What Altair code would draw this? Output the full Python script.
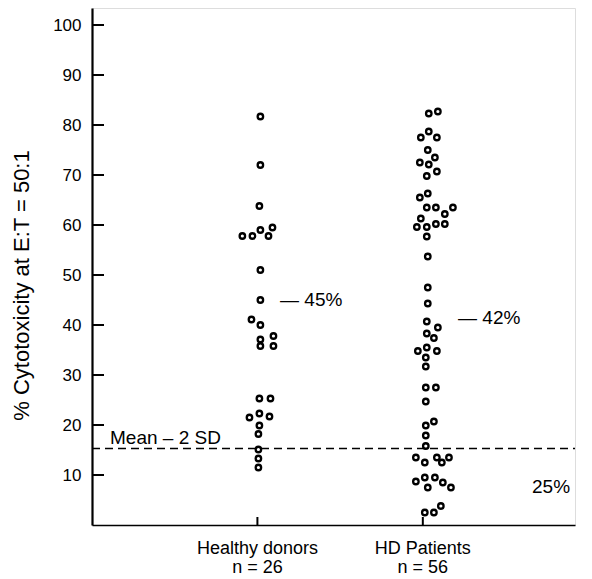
import altair as alt
import pandas as pd

# ---- data ----
groups = ["Healthy donors", "HD Patients"]
group_pos = [1, 2]
group_n = [26, 56]

healthy_values = [81.7, 72.0, 63.8, 57.8, 57.8, 59.0, 57.8, 59.5, 51.0, 45.0,
                  41.1, 40.0, 37.1, 35.8, 37.8, 35.8, 25.3, 25.3, 21.5, 22.3,
                  21.7, 19.9, 18.2, 15.1, 13.3, 11.5]
healthy_jitter = [0.018, 0.018, 0.012, -0.091, -0.030, 0.018, 0.067, 0.091, 0.018, 0.018,
                  -0.036, 0.018, 0.018, 0.018, 0.097, 0.097, 0.012, 0.079, -0.048, 0.012,
                  0.073, 0.012, 0.006, 0.006, 0.006, 0.006]

hd_values = [82.3, 82.7, 77.5, 78.7, 77.5, 75.0, 72.5, 72.1, 73.5, 69.8,
             70.7, 65.5, 66.3, 63.5, 63.5, 63.5, 62.2, 61.3, 59.6, 59.6,
             60.2, 60.2, 57.7, 53.7, 47.5, 44.3, 40.7, 39.5, 38.3, 37.4,
             34.8, 35.5, 34.8, 33.5, 31.7, 27.5, 27.5, 24.7, 19.9, 20.7,
             17.9, 15.8, 13.5, 12.5, 13.5, 12.5, 13.5, 8.7, 9.5, 9.5,
             8.5, 7.5, 7.5, 2.5, 2.5, 3.8]
hd_jitter = [0.036, 0.091, -0.012, 0.036, 0.085, 0.030, -0.018, 0.036, 0.073, 0.024,
             0.085, -0.018, 0.030, 0.024, 0.079, 0.182, 0.133, -0.012, -0.036, 0.024,
             0.079, 0.133, 0.024, 0.030, 0.030, 0.030, 0.024, 0.091, 0.024, 0.067,
             -0.030, 0.024, 0.085, 0.018, 0.018, 0.018, 0.079, 0.018, 0.018, 0.067,
             0.018, 0.018, -0.042, 0.012, 0.085, 0.115, 0.158, -0.042, 0.012, 0.073,
             0.121, 0.170, 0.030, 0.012, 0.067, 0.109]

cutoff = 15.3  # Mean - 2 SD
y_ticks = [10, 20, 30, 40, 50, 60, 70, 80, 90, 100]

ann_text = ["\u2014 45%", "\u2014 42%", "25%"]
ann_x = [1.137, 2.213, 2.66]
ann_y = [45.0, 41.5, 7.6]

FONT = "Liberation Sans"
W, H = 483, 517
XDOM = [0, 2.92]
YDOM = [0, 103.4]

pts = pd.DataFrame({
    "x": [group_pos[0] + j for j in healthy_jitter] + [group_pos[1] + j for j in hd_jitter],
    "y": healthy_values + hd_values,
})
xs = alt.Scale(domain=XDOM, nice=False, zero=False)
ys = alt.Scale(domain=YDOM, nice=False, zero=False)

points = alt.Chart(pts).mark_point(
    shape="circle", filled=False, color="black", size=30, strokeWidth=2.3, opacity=1
).encode(
    x=alt.X("x:Q", scale=xs, axis=alt.Axis(labels=False, ticks=False, title=None, grid=False,
                                         domainColor="black", domainWidth=1.5)),
    y=alt.Y("y:Q", scale=ys, axis=alt.Axis(
        values=y_ticks, ticks=False, tickSize=0, labelPadding=11, labelFontSize=17,
        labelFont=FONT, labelColor="black", domainColor="black", domainWidth=2.2, grid=False,
        title="% Cytotoxicity at E:T = 50:1", titleFont=FONT, titleFontSize=22,
        titleFontWeight="normal", titleColor="black", titleAngle=270, titleX=-71, titleY=277,
        titleAlign="center", titleBaseline="middle")),
)

yt = alt.Chart(pd.DataFrame({"y": y_ticks})).mark_rule(color="black", strokeWidth=2).encode(
    y=alt.Y("y:Q", scale=ys), x=alt.value(0), x2=alt.value(12))

xt = alt.Chart(pd.DataFrame({"x": group_pos})).mark_rule(color="black", strokeWidth=2).encode(
    x=alt.X("x:Q", scale=xs), y=alt.value(H), y2=alt.value(H - 8))

dash = alt.Chart(pd.DataFrame({"y": [cutoff]})).mark_rule(
    color="black", strokeWidth=1.5, strokeDash=[8, 5]
).encode(y=alt.Y("y:Q", scale=ys), x=alt.value(0), x2=alt.value(W))

mean_lbl = alt.Chart(pd.DataFrame({"x": [0.109], "y": [16.2], "t": ["Mean \u2013 2 SD"]})).mark_text(
    align="left", baseline="alphabetic", font=FONT, fontSize=19, color="black"
).encode(x=alt.X("x:Q", scale=xs), y=alt.Y("y:Q", scale=ys), text="t:N")

ann = alt.Chart(pd.DataFrame({"x": ann_x, "y": ann_y, "t": ann_text})).mark_text(
    align="left", baseline="middle", font=FONT, fontSize=19, color="black"
).encode(x=alt.X("x:Q", scale=xs), y=alt.Y("y:Q", scale=ys), text="t:N")

glabels = alt.Chart(pd.DataFrame({
    "x": group_pos,
    "t": [f"{g}\nn = {n}" for g, n in zip(groups, group_n)],
})).mark_text(
    align="center", baseline="alphabetic", font=FONT, fontSize=18, color="black",
    lineBreak="\n", lineHeight=19
).encode(x=alt.X("x:Q", scale=xs), y=alt.value(546), text="t:N")

chart = alt.layer(points, yt, xt, dash, mean_lbl, ann, glabels).properties(
    width=W, height=H,
    autosize=alt.AutoSizeParams(type="none"),
    padding={"left": 84, "top": 0, "right": 5, "bottom": 62},
).configure_view(stroke=None).configure(background="white")

chart.save("out.html", embed_options={"renderer": "svg", "actions": False})
